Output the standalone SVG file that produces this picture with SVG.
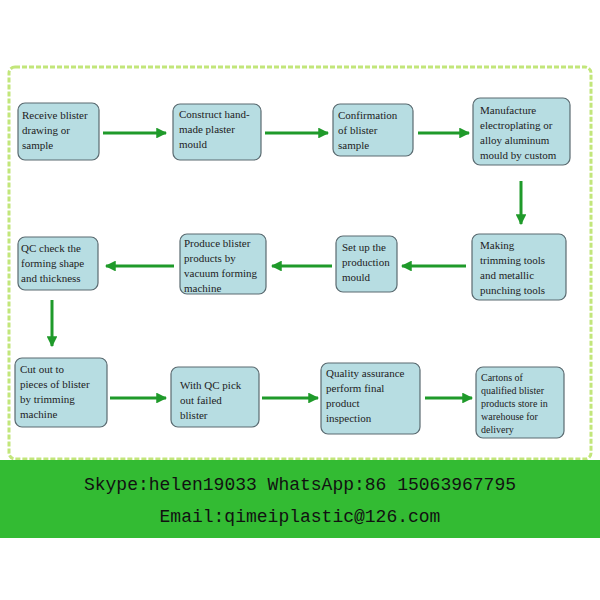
<svg xmlns="http://www.w3.org/2000/svg" width="600" height="600" viewBox="0 0 600 600">
<defs>
<style>
.n rect{fill:#b7dde2;stroke:#5a6a70;stroke-width:1.2}
.n text{font-family:"Liberation Serif",serif;font-size:11px;fill:#222}
.c line{stroke:#1f9a2a;stroke-width:3;marker-end:url(#a)}
.b{font-family:"Liberation Mono",monospace;font-size:18px;fill:#111;text-anchor:middle}
</style>
<marker id="a" viewBox="0 0 10 10" refX="9" refY="5" markerWidth="3.6" markerHeight="3.6" orient="auto"><path d="M0,0L10,5L0,10z" fill="#1f9a2a"/></marker>
</defs>
<rect width="600" height="600" fill="#fff"/>
<rect x="9" y="67" width="582" height="392" rx="6" fill="none" stroke="#c2e67a" stroke-width="3" stroke-dasharray="5 2"/>
<g class="c">
<line x1="103" y1="133" x2="166" y2="133"/>
<line x1="265" y1="133" x2="328" y2="133"/>
<line x1="418" y1="133" x2="469" y2="133"/>
<line x1="521" y1="181" x2="521" y2="224"/>
<line x1="466" y1="266" x2="402" y2="266"/>
<line x1="332" y1="266" x2="272" y2="266"/>
<line x1="174" y1="266" x2="106" y2="266"/>
<line x1="52" y1="300" x2="52" y2="346"/>
<line x1="110" y1="398" x2="166" y2="398"/>
<line x1="262" y1="398" x2="318" y2="398"/>
<line x1="425" y1="398" x2="472" y2="398"/>
</g>
<g id="n1" class="n"><rect x="18" y="103" width="81" height="57" rx="7"/><text x="22" y="119">Receive blister</text><text x="22" y="134">drawing or</text><text x="22" y="149">sample</text></g>
<g id="n2" class="n"><rect x="173" y="104" width="88" height="56" rx="7"/><text x="179" y="118">Construct hand-</text><text x="179" y="133">made plaster</text><text x="179" y="148">mould</text></g>
<g id="n3" class="n"><rect x="333" y="104" width="80" height="52" rx="7"/><text x="338" y="119">Confirmation</text><text x="338" y="134">of blister</text><text x="338" y="149">sample</text></g>
<g id="n4" class="n"><rect x="473" y="98" width="97" height="67" rx="7"/><text x="480" y="114">Manufacture</text><text x="480" y="129">electroplating or</text><text x="480" y="144">alloy aluminum</text><text x="480" y="159">mould by custom</text></g>
<g id="n5" class="n"><rect x="472" y="234" width="94" height="66" rx="7"/><text x="480" y="249">Making</text><text x="480" y="264">trimming tools</text><text x="480" y="279">and metallic</text><text x="480" y="294">punching tools</text></g>
<g id="n6" class="n"><rect x="336" y="236" width="61" height="56" rx="7"/><text x="342" y="251">Set up the</text><text x="342" y="266">production</text><text x="342" y="281">mould</text></g>
<g id="n7" class="n"><rect x="180" y="234" width="86" height="60" rx="7"/><text x="184" y="247">Produce blister</text><text x="184" y="262">products by</text><text x="184" y="277">vacuum forming</text><text x="184" y="292">machine</text></g>
<g id="n8" class="n"><rect x="18" y="237" width="80" height="53" rx="7"/><text x="21" y="252">QC check the</text><text x="21" y="267">forming shape</text><text x="21" y="282">and thickness</text></g>
<g id="n9" class="n"><rect x="15" y="358" width="92" height="69" rx="7"/><text x="20" y="373">Cut out to</text><text x="20" y="388">pieces of blister</text><text x="20" y="403">by trimming</text><text x="20" y="418">machine</text></g>
<g id="n10" class="n"><rect x="171" y="367" width="88" height="60" rx="7"/><text x="180" y="389">With QC pick</text><text x="180" y="404">out failed</text><text x="180" y="419">blister</text></g>
<g id="n11" class="n"><rect x="321" y="363" width="99" height="71" rx="7"/><text x="326" y="377">Quality assurance</text><text x="326" y="392">perform final</text><text x="326" y="407">product</text><text x="326" y="422">inspection</text></g>
<g id="n12" class="n"><rect x="476" y="367" width="88" height="71" rx="7"/><text x="481" y="381" style="font-size:10px">Cartons of</text><text x="481" y="394" style="font-size:10px">qualified blister</text><text x="481" y="407" style="font-size:10px">products store in</text><text x="481" y="420" style="font-size:10px">warehouse for</text><text x="481" y="433" style="font-size:10px">delivery</text></g>
<rect x="0" y="460" width="600" height="78" fill="#33bb33"/>
<text class="b" x="300" y="490">Skype:helen19033 WhatsApp:86 15063967795</text>
<text class="b" x="300" y="522">Email:qimeiplastic@126.com</text>
</svg>
